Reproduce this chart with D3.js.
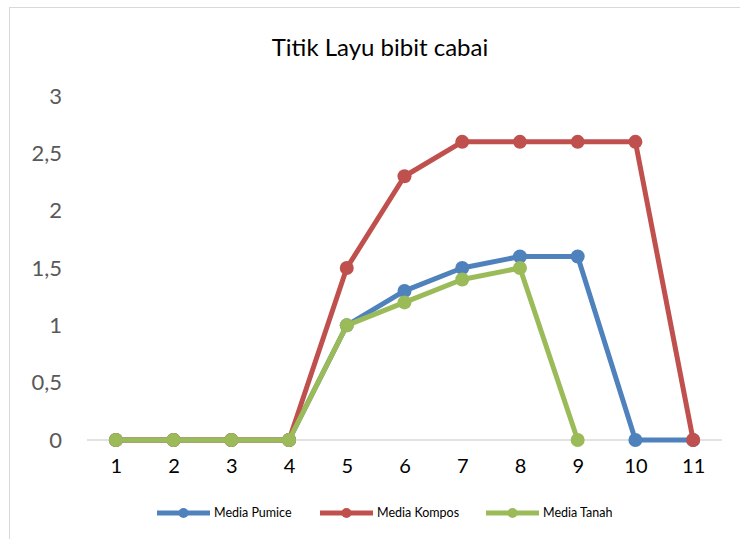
<!DOCTYPE html>
<html>
<head>
<meta charset="utf-8">
<script src="https://cdn.jsdelivr.net/npm/d3@7"></script>
<style>
  body { margin: 0; background: #fff; }
  svg { display: block; font-family: Lato, "Liberation Sans", sans-serif; }
</style>
</head>
<body>
<svg id="chart"></svg>
<script>
'use strict'

const width = 740,
      height = 539

// data
const days = [1, 2, 3, 4, 5, 6, 7, 8, 9, 10, 11]
const pumice = [0, 0, 0, 0, 1, 1.3, 1.5, 1.6, 1.6, 0, 0]
const kompos = [0, 0, 0, 0, 1.5, 2.3, 2.6, 2.6, 2.6, 2.6, 0]
const tanah = [0, 0, 0, 0, 1, 1.2, 1.4, 1.5, 0, null, null]
const yTicks = [0, 0.5, 1, 1.5, 2, 2.5, 3]

const series = [
  { name: "Media Pumice", values: pumice, color: "#4f81bd" },
  { name: "Media Kompos", values: kompos, color: "#c0504d" },
  { name: "Media Tanah", values: tanah, color: "#9bbb59" }
]

const svg = d3.select("#chart")
  .attr("width", width)
  .attr("height", height)

// chart frame (only left and top edges are inside the window)
svg.append("rect")
  .attr("x", 9.5).attr("y", 7.5)
  .attr("width", 760).attr("height", 560)
  .attr("fill", "none")
  .attr("stroke", "#d9d9d9")

svg.append("text")
  .attr("x", 380).attr("y", 56)
  .attr("text-anchor", "middle")
  .attr("font-size", 24)
  .attr("fill", "#000")
  .text("Titik Layu bibit cabai")

const x = d3.scalePoint()
  .domain(days)
  .range([87, 722])
  .padding(0.5)

const y = d3.scaleLinear()
  .domain([0, 3])
  .range([440, 96])

const fmt = d => String(d).replace(".", ",")

// y axis labels (no line)
const yAxis = svg.append("g")
  .attr("transform", "translate(72,0)")
  .call(d3.axisLeft(y).tickValues(yTicks).tickFormat(fmt).tickSize(0).tickPadding(10))
yAxis.select(".domain").remove()
yAxis.selectAll("text")
  .attr("font-family", "Lato, 'Liberation Sans', sans-serif")
  .attr("font-size", 22)
  .attr("fill", "#595959")

// x axis at zero
const xAxis = svg.append("g")
  .attr("transform", `translate(0,${y(0)})`)
  .call(d3.axisBottom(x).tickSize(0).tickPadding(19))
xAxis.select(".domain")
  .attr("d", "M87,0H722")
  .attr("stroke", "#d9d9d9")
  .attr("stroke-width", 1.5)
xAxis.selectAll("text")
  .attr("font-family", "Lato, 'Liberation Sans', sans-serif")
  .attr("font-size", 20)
  .attr("fill", "#000")

const line = d3.line()
  .defined(d => d.v !== null)
  .x(d => x(d.day))
  .y(d => y(d.v))

series.forEach(s => {
  const pts = days.map((day, i) => ({ day: day, v: s.values[i] }))
  const g = svg.append("g")
  g.append("path")
    .datum(pts)
    .attr("d", line)
    .attr("fill", "none")
    .attr("stroke", s.color)
    .attr("stroke-width", 5)
    .attr("stroke-linejoin", "round")
  g.selectAll("circle")
    .data(pts.filter(d => d.v !== null))
    .enter().append("circle")
      .attr("cx", d => x(d.day))
      .attr("cy", d => y(d.v))
      .attr("r", 7)
      .attr("fill", s.color)
})

// legend
const legendX = [157, 320, 486]
const legend = svg.append("g")
  .selectAll("g")
  .data(series)
  .enter().append("g")
    .attr("transform", (d, i) => `translate(${legendX[i]},513)`)
legend.append("line")
  .attr("x1", 0).attr("x2", 53)
  .attr("stroke", d => d.color)
  .attr("stroke-width", 5)
legend.append("circle")
  .attr("cx", 26.5)
  .attr("r", 5)
  .attr("fill", d => d.color)
legend.append("text")
  .attr("x", 57)
  .attr("dy", "0.35em")
  .attr("font-size", 12.5)
  .attr("fill", "#000")
  .text(d => d.name)
</script>
</body>
</html>
